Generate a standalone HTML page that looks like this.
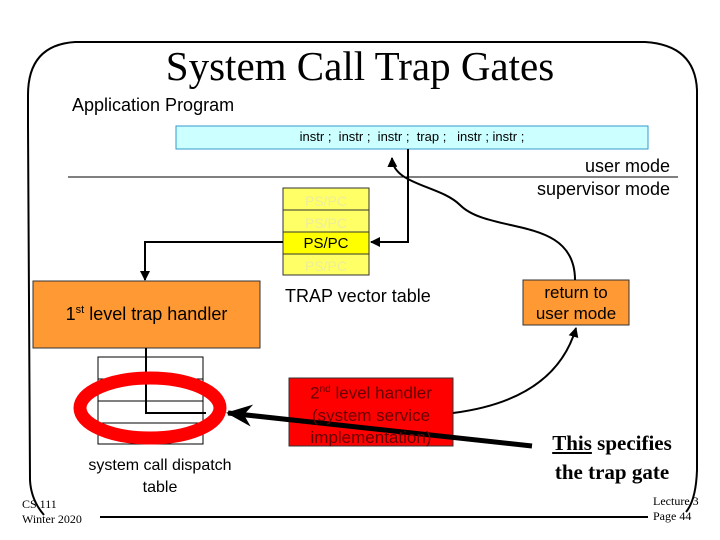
<!DOCTYPE html>
<html><head><meta charset="utf-8"><style>
html,body{margin:0;padding:0;background:#fff;}
body{width:720px;height:540px;position:relative;overflow:hidden;font-family:"Liberation Sans",sans-serif;}
.a{position:absolute;white-space:nowrap;}
</style></head><body>
<svg width="720" height="540" style="position:absolute;left:0;top:0" xmlns="http://www.w3.org/2000/svg">
<defs>
<marker id="ah" markerWidth="10" markerHeight="10" refX="9" refY="5" orient="auto" markerUnits="userSpaceOnUse"><path d="M0,0 L10,5 L0,10 z" fill="#000"/></marker>
<marker id="ah2" markerWidth="26" markerHeight="22" refX="24" refY="11" orient="auto" markerUnits="userSpaceOnUse"><path d="M0,0 L26,11 L0,22 L8,11 z" fill="#000"/></marker>
</defs>
<!-- border -->
<path d="M28,125 L28,95 Q28,45 75,42 L645,42 Q695,45 697,90 L697,470 Q696,500 686,512" fill="none" stroke="#000" stroke-width="2"/>
<path d="M28,125 L30,480 Q31,500 44,515" fill="none" stroke="#000" stroke-width="2"/>
<line x1="100" y1="517" x2="648" y2="517" stroke="#000" stroke-width="2"/>
<!-- instr box -->
<rect x="176" y="126" width="472" height="23" fill="#ccffff" stroke="#3399cc" stroke-width="1"/>
<line x1="68" y1="177" x2="678" y2="177" stroke="#000" stroke-width="1"/>
<!-- PS/PC stack -->
<rect x="283" y="188" width="86" height="22" fill="#ffff66" stroke="#333" stroke-width="1"/>
<rect x="283" y="210" width="86" height="22" fill="#ffff66" stroke="#333" stroke-width="1"/>
<rect x="283" y="232" width="86" height="22" fill="#ffff00" stroke="#333" stroke-width="1"/>
<rect x="283" y="254" width="86" height="21" fill="#ffff66" stroke="#333" stroke-width="1"/>
<!-- trap arrow -->
<polyline points="408,149 408,242 371,242" fill="none" stroke="#000" stroke-width="2" marker-end="url(#ah)"/>
<polyline points="283,242 145,242 145,280" fill="none" stroke="#000" stroke-width="2" marker-end="url(#ah)"/>
<!-- boxes -->
<rect x="33" y="281" width="227" height="67" fill="#ff9933" stroke="#333" stroke-width="1"/>
<rect x="523" y="280" width="106" height="45" fill="#ff9933" stroke="#333" stroke-width="1"/>
<rect x="289" y="378" width="164" height="68" fill="#ff0000" stroke="#333" stroke-width="1"/>
<!-- dispatch table -->
<rect x="98" y="357" width="105" height="87" fill="#fff" stroke="#000" stroke-width="1"/>
<line x1="98" y1="379" x2="203" y2="379" stroke="#000"/>
<line x1="98" y1="401" x2="203" y2="401" stroke="#000"/>
<line x1="98" y1="423" x2="203" y2="423" stroke="#000"/>
<polyline points="146,348 146,413 206,413" fill="none" stroke="#000" stroke-width="2"/>
<ellipse cx="150" cy="408" rx="70" ry="30" fill="none" stroke="#ff0000" stroke-width="13"/>
<!-- thick pointer -->
<line x1="532" y1="446" x2="228" y2="413" stroke="#000" stroke-width="5" marker-end="url(#ah2)"/>
<!-- curves -->
<path d="M453,413 Q555,400 576,328" fill="none" stroke="#000" stroke-width="2" marker-end="url(#ah)"/>
<path d="M575,280 C575,215 490,235 460,205 C440,185 393,185 392,158" fill="none" stroke="#000" stroke-width="2" marker-end="url(#ah)"/>
</svg>
<div class="a" style="left:0;width:720px;text-align:center;top:42px;font-family:'Liberation Serif',serif;font-size:41px;">System Call Trap Gates</div>
<div class="a" style="left:72px;top:95px;font-size:18px;">Application Program</div>
<div class="a" style="left:176px;width:472px;text-align:center;top:129px;font-size:13px;">instr ;&nbsp; instr ;&nbsp; instr ;&nbsp; trap ;&nbsp;&nbsp; instr ; instr ;</div>
<div class="a" style="right:50px;top:155px;font-size:18px;text-align:right;line-height:23px;">user mode<br>supervisor mode</div>
<div class="a" style="left:283px;width:86px;text-align:center;top:190px;font-size:14px;color:#eeee99;line-height:22px;">PS/PC<br>PS/PC</div>
<div class="a" style="left:283px;width:86px;text-align:center;top:233px;font-size:15px;line-height:22px;">PS/PC<br><span style="color:#eeee99;font-size:14px">PS/PC</span></div>
<div class="a" style="left:33px;width:227px;text-align:center;top:304px;font-size:18px;">1<sup style="font-size:11px">st</sup> level trap handler</div>
<div class="a" style="left:285px;top:286px;font-size:18px;">TRAP vector table</div>
<div class="a" style="left:523px;width:106px;text-align:center;top:282px;font-size:17px;line-height:21px;">return to<br>user mode</div>
<div class="a" style="left:289px;width:164px;text-align:center;top:379px;font-size:17px;line-height:22px;color:#660000;">2<sup style="font-size:10px">nd</sup> level handler<br>(system service<br>implementation)</div>
<div class="a" style="left:60px;width:200px;text-align:center;top:455px;font-size:16px;line-height:22px;">system call dispatch<br>table</div>
<div class="a" style="left:532px;width:160px;text-align:center;top:429px;font-family:'Liberation Serif',serif;font-weight:bold;font-size:21px;line-height:29px;"><u>This</u> specifies<br>the trap gate</div>
<div class="a" style="left:22px;top:497px;font-family:'Liberation Serif',serif;font-size:12px;line-height:15px;">CS 111<br>Winter 2020</div>
<div class="a" style="left:653px;top:494px;font-family:'Liberation Serif',serif;font-size:12px;line-height:15px;">Lecture 3<br>Page 44</div>
</body></html>
